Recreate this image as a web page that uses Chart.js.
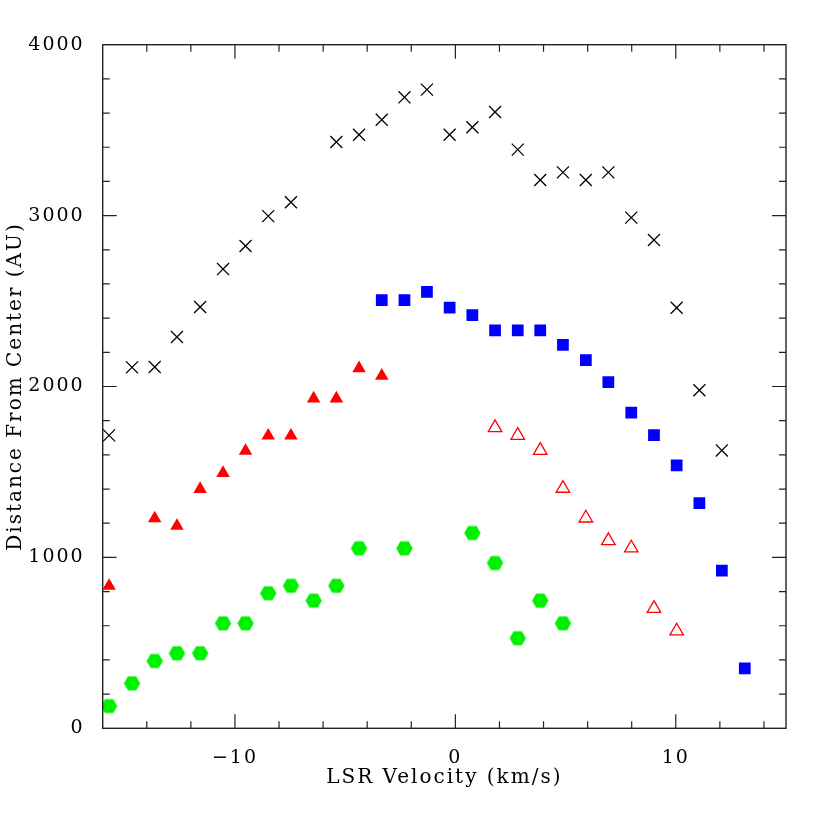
<!DOCTYPE html>
<html>
<head>
<meta charset="utf-8">
<script src="https://cdn.jsdelivr.net/npm/chart.js@4"></script>
<style>
  html, body { margin: 0; padding: 0; background: #fff; }
  #chart { display: block; }
</style>
</head>
<body>
<canvas id="chart" width="830" height="830"></canvas>
<script>
// channel velocities (km/s), shared by all series
const velocity = [-15.71, -14.67, -13.64, -12.63, -11.58, -10.54, -9.52, -8.49, -7.46, -6.43,
  -5.40, -4.37, -3.34, -2.31, -1.29, -0.26, 0.77, 1.80, 2.83, 3.85,
  4.88, 5.92, 6.94, 7.98, 9.01, 10.04, 11.07, 12.09, 13.13];

// distances from center (AU), null = no point in that channel
const crossDist = [1714, 2112, 2114, 2290, 2465, 2687, 2822, 2997, 3078, null,
  3431, 3473, 3561, 3692, 3737, 3473, 3517, 3606, 3386, 3208,
  3253, 3208, 3253, 2988, 2857, 2461, 1978, 1626, null];
const squareDist = [null, null, null, null, null, null, null, null, null, null,
  null, null, 2506, 2506, 2553, 2461, 2418, 2329, 2329, 2329,
  2243, 2155, 2025, 1847, 1715, 1539, 1318, 922, 351];
const filledTriDist = [833, null, 1228, 1184, 1400, 1494, 1623, 1712, 1712, 1929,
  1929, 2106, 2063, null, null, null, null, null, null, null,
  null, null, null, null, null, null, null, null, null];
const openTriDist = [null, null, null, null, null, null, null, null, null, null,
  null, null, null, null, null, null, null, 1759, 1714, 1626,
  1404, 1230, 1098, 1055, 701, 569, null, null, null];
const hexDist = [130, 263, 394, 439, 439, 614, 614, 790, 834, 747,
  834, 1053, null, 1053, null, null, 1143, 967, 527, 747,
  614, null, null, null, null, null, null, null, null];

const xMin = -16, xMax = 15, yMin = 0, yMax = 4000;

function pairs(dist) {
  const out = [];
  dist.forEach((d, i) => { if (d !== null) out.push({ x: velocity[i], y: d }); });
  return out;
}

// filled hexagon marker (flat top/bottom)
function hexagon(color, r) {
  const c = document.createElement('canvas');
  c.width = Math.ceil(2 * r) + 2;
  c.height = Math.ceil(Math.sqrt(3) * r) + 2;
  const g = c.getContext('2d');
  g.fillStyle = color;
  g.beginPath();
  for (let k = 0; k < 6; k++) {
    const a = k * Math.PI / 3;
    const px = c.width / 2 + r * Math.cos(a);
    const py = c.height / 2 + r * Math.sin(a);
    if (k === 0) g.moveTo(px, py); else g.lineTo(px, py);
  }
  g.closePath();
  g.fill();
  return c;
}

// the original lettering is wide, so space the glyphs out a little
const spacing = {
  id: 'spacing',
  beforeDraw(chart) { chart.ctx.letterSpacing = '2px'; }
};

// frame plus inward ticks on all four sides
const frameTicks = {
  id: 'frameTicks',
  afterDraw(chart) {
    const { ctx, chartArea: a, scales } = chart;
    ctx.save();
    ctx.strokeStyle = '#222';
    ctx.lineWidth = 1.4;
    ctx.strokeRect(a.left, a.top, a.right - a.left, a.bottom - a.top);
    ctx.lineWidth = 1.2;
    ctx.beginPath();
    for (let v = -14; v < xMax; v += 2) {
      const px = scales.x.getPixelForValue(v);
      const len = v % 10 === 0 ? 14 : 7;
      ctx.moveTo(px, a.bottom); ctx.lineTo(px, a.bottom - len);
      ctx.moveTo(px, a.top); ctx.lineTo(px, a.top + len);
    }
    for (let v = 200; v < yMax; v += 200) {
      const py = scales.y.getPixelForValue(v);
      const len = v % 1000 === 0 ? 14 : 7;
      ctx.moveTo(a.left, py); ctx.lineTo(a.left + len, py);
      ctx.moveTo(a.right, py); ctx.lineTo(a.right - len, py);
    }
    ctx.stroke();
    ctx.restore();
  }
};

const family = "'DejaVu Serif', 'Liberation Serif', serif";
const tickFont = { family, size: 19 };
const titleFont = { family, size: 20 };

new Chart(document.getElementById('chart'), {
  type: 'scatter',
  data: {
    datasets: [
      { data: pairs(crossDist), pointStyle: 'crossRot', pointRadius: 8.5,
        borderColor: '#000', borderWidth: 1.3, backgroundColor: '#000' },
      { data: pairs(squareDist), pointStyle: 'rect', pointRadius: 8.3,
        borderWidth: 0, borderColor: '#0000ff', backgroundColor: '#0000ff' },
      { data: pairs(filledTriDist), pointStyle: 'triangle', pointRadius: 7.8,
        borderWidth: 0, borderColor: '#ff0000', backgroundColor: '#ff0000' },
      { data: pairs(openTriDist), pointStyle: 'triangle', pointRadius: 7.8,
        borderWidth: 1.3, borderColor: '#ff0000', backgroundColor: 'rgba(0,0,0,0)' },
      { data: pairs(hexDist), pointStyle: hexagon('#00f000', 8.2), pointRadius: 8 }
    ]
  },
  options: {
    responsive: false,
    animation: false,
    layout: { padding: { top: 44.7, right: 44, left: 0, bottom: 0 } },
    plugins: { legend: { display: false }, tooltip: { enabled: false } },
    scales: {
      x: {
        type: 'linear', min: xMin, max: xMax,
        grid: { display: false }, border: { display: false },
        afterFit: s => { s.height = 101.7; },
        ticks: {
          stepSize: 2, padding: 10, color: '#000', font: tickFont, maxRotation: 0, autoSkip: false,
          callback: v => (v % 10 === 0 ? String(v).replace('-', '\u2212') : '')
        },
        title: { display: true, text: 'LSR Velocity (km/s)', color: '#000', font: titleFont,
          padding: { top: 4, bottom: 40 } }
      },
      y: {
        min: yMin, max: yMax,
        grid: { display: false }, border: { display: false },
        afterFit: s => { s.width = 102.7; },
        ticks: {
          stepSize: 200, padding: 10, color: '#000', font: tickFont, autoSkip: false,
          callback: v => (v % 1000 === 0 ? String(v) : '')
        },
        title: { display: true, text: 'Distance From Center (AU)', color: '#000', font: titleFont,
          padding: { top: 4, bottom: 4 } }
      }
    }
  },
  plugins: [spacing, frameTicks]
});
</script>
</body>
</html>
